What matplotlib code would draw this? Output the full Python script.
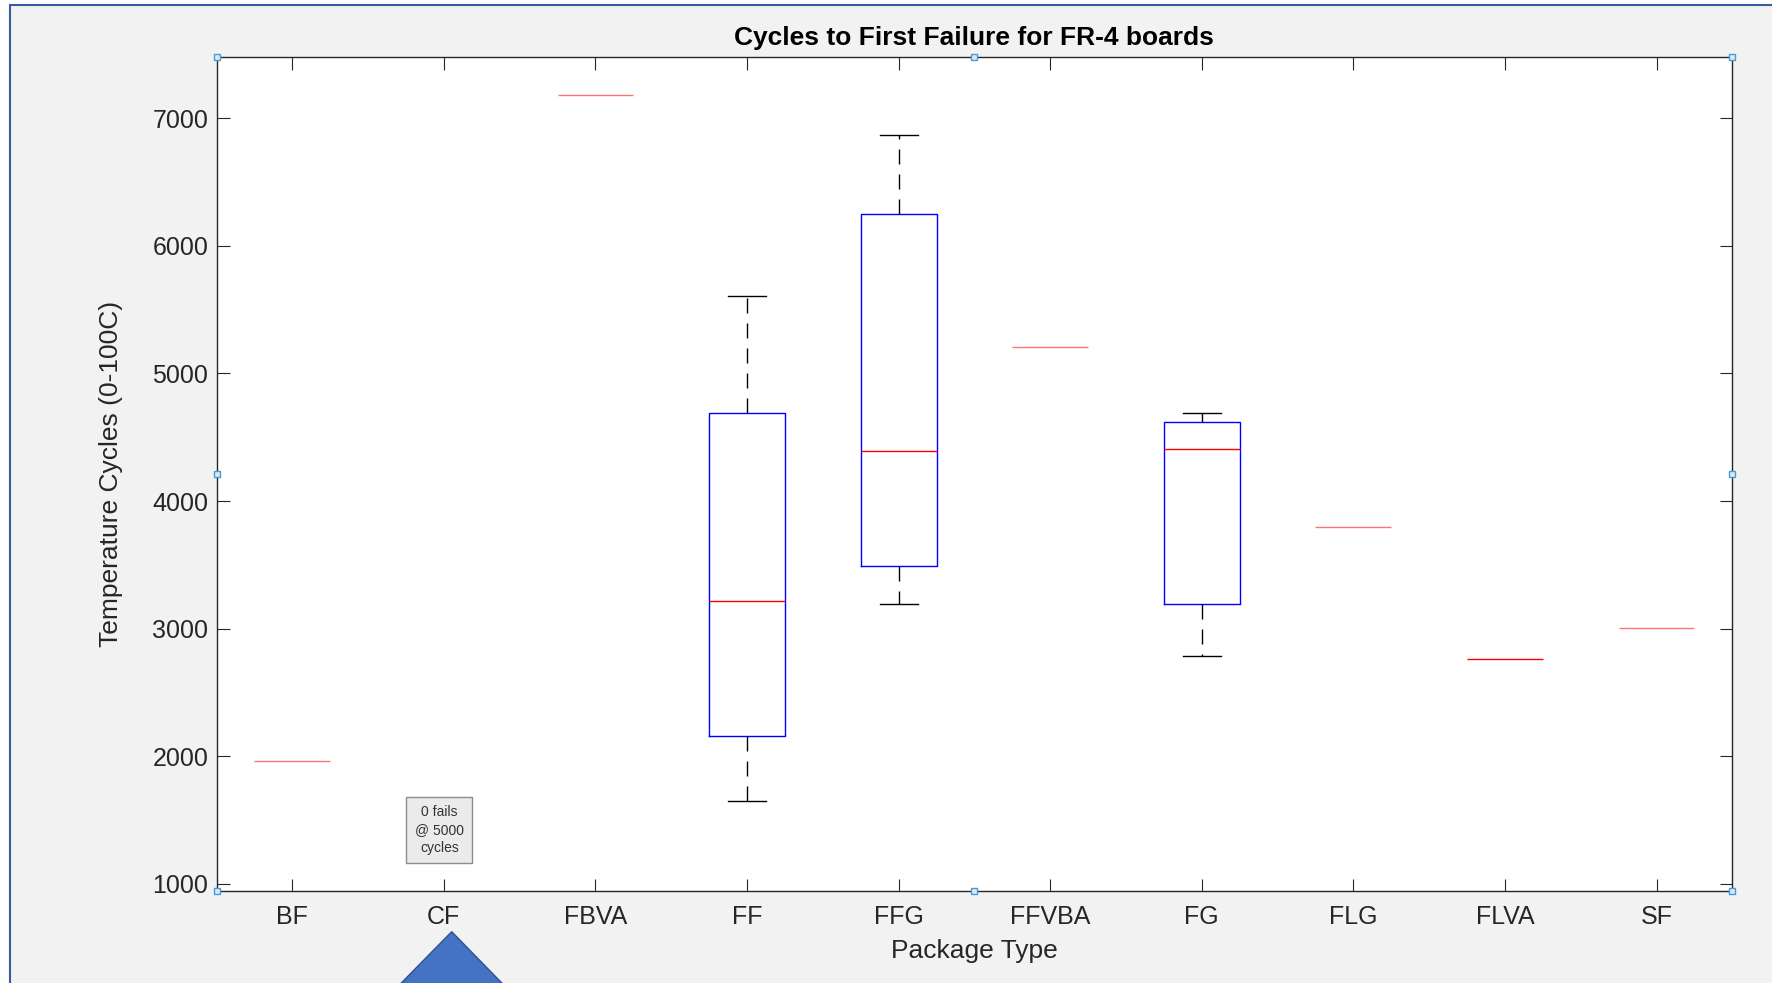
import matplotlib
matplotlib.use("Agg")
import matplotlib.pyplot as plt
from matplotlib.patches import Rectangle, Polygon

plt.rcParams['font.family'] = ['Liberation Sans', 'DejaVu Sans']

# package types, in axis order
packages = ["BF", "CF", "FBVA", "FF", "FFG", "FFVBA", "FG", "FLG", "FLVA", "SF"]

# box stats (None = no failures)
whis_lo = [1965, None, 7182, 1645, 3192, 5207, 2788, 3799, 2764, 3002]
q1      = [1965, None, 7182, 2157, 3490, 5207, 3190, 3799, 2764, 3002]
median  = [1965, None, 7182, 3216, 4394, 5207, 4404, 3799, 2764, 3002]
q3      = [1965, None, 7182, 4690, 6252, 5207, 4618, 3799, 2764, 3002]
whis_hi = [1965, None, 7182, 5609, 6871, 5207, 4693, 3799, 2764, 3002]

stats = []
pos = []
for i, name in enumerate(packages):
    if median[i] is None:
        continue
    stats.append({"label": name, "whislo": whis_lo[i], "q1": q1[i], "med": median[i],
                  "q3": q3[i], "whishi": whis_hi[i], "fliers": []})
    pos.append(i + 1)

axcol = "#262626"
fig = plt.figure(figsize=(17.72, 9.83), dpi=100)
fig.patch.set_facecolor("white")

# slide panel behind the figure
fig.patches.append(Rectangle((10 / 1772, -0.05), 1.1, 1 - 4.5 / 983 + 0.05, transform=fig.transFigure,
                             facecolor="#f2f2f2", edgecolor="#3a5ba0", lw=1.5, zorder=-5))

ax = fig.add_axes([216.5 / 1772, 1 - 891 / 983, (1732.3 - 216.5) / 1772, (891 - 57.3) / 983])
ax.set_facecolor("white")

bp = ax.bxp(stats, positions=pos, widths=0.5, showfliers=False, manage_ticks=False,
            boxprops=dict(color="blue", lw=1.0),
            medianprops=dict(color="red", lw=1.0),
            whiskerprops=dict(color="black", lw=1.0, linestyle=(0, (10.8, 7.2))),
            capprops=dict(color="black", lw=1.0), capwidths=0.25)

# one-sample groups: only the median line shows
for k, st in enumerate(stats):
    if st["q1"] == st["q3"]:
        bp["boxes"][k].set_visible(False)
        bp["caps"][2 * k].set_visible(False)
        bp["caps"][2 * k + 1].set_visible(False)
        if st["label"] != "FLVA":
            bp["medians"][k].set_alpha(0.55)

ax.set_xlim(0.5, 10.5)
ax.set_ylim(943, 7478)
ax.set_xticks(range(1, len(packages) + 1))
ax.set_xticklabels(packages)
ax.set_yticks([1000, 2000, 3000, 4000, 5000, 6000, 7000])

ax.tick_params(axis="both", direction="in", length=9, width=0.8, color=axcol,
               labelcolor=axcol, labelsize=18, top=True, right=True)
ax.tick_params(axis="x", pad=10)
ax.tick_params(axis="y", pad=6)
for s in ax.spines.values():
    s.set_color(axcol)
    s.set_linewidth(1.0)

ax.set_title("Cycles to First Failure for FR-4 boards", fontsize=19, fontweight="bold",
             color="black", pad=9)
ax.set_xlabel("Package Type", fontsize=19, color=axcol)
ax.set_ylabel("Temperature Cycles (0-100C)", fontsize=19, color=axcol)
ax.xaxis.set_label_coords(0.5, -0.057)
ax.yaxis.set_label_coords(-0.062, 0.5)

# note for CF
ax.text(1.97, 1420, "0 fails\n@ 5000\ncycles", fontsize=10, color="#333333",
        ha="center", va="center", linespacing=1.35,
        bbox=dict(boxstyle="square,pad=0.6", facecolor="#ebebeb", edgecolor="#8c8c8c", lw=1.0))

# selection handles
hx = [0, 0.5, 1, 0, 1, 0, 0.5, 1]
hy = [1, 1, 1, 0.5, 0.5, 0, 0, 0]
ax.plot(hx, hy, "s", transform=ax.transAxes, ms=4.5, mfc="#dbe9f6", mec="#4a9ad4",
        mew=1.0, clip_on=False, zorder=10)

# pointer triangle under CF
tri = Polygon([(451.7 / 1772, 1 - 931.7 / 983), (382 / 1772, -0.02), (521 / 1772, -0.02)],
              closed=True, transform=fig.transFigure, facecolor="#4472c4",
              edgecolor="#2f528f", lw=1.0, zorder=5)
fig.patches.append(tri)

fig.savefig("out.png", dpi=100)
